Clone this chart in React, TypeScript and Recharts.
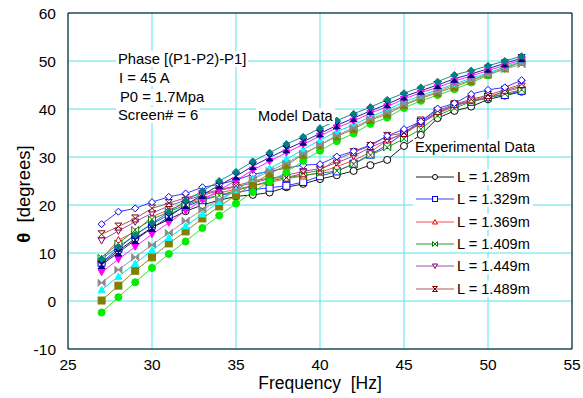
import React from 'react';
import { LineChart, Line, XAxis, YAxis, CartesianGrid } from 'recharts';

// frequency points (Hz)
const freq = [27, 28, 29, 30, 31, 32, 33, 34, 35, 36, 37, 38, 39, 40, 41, 42, 43, 44, 45, 46, 47, 48, 49, 50, 51, 52];

// model data (filled markers)
const modelGreen = [-2.4, 0.8, 3.9, 6.9, 9.8, 12.4, 15.2, 17.8, 20.3, 22.7, 24.9, 26.8, 29.2, 31.3, 33.3, 34.9, 36.9, 38.2, 40.2, 41.7, 42.9, 44.1, 45.5, 47.0, 48.4, 49.8];
const modelOlive = [0.1, 3.2, 6.3, 9.1, 12.0, 14.5, 17.2, 19.7, 22.0, 24.4, 26.5, 28.3, 30.5, 32.5, 34.3, 35.8, 37.7, 38.9, 40.8, 42.2, 43.4, 44.6, 45.9, 47.2, 48.5, 49.9];
const modelCyan = [2.3, 5.1, 7.8, 10.6, 13.2, 15.6, 18.1, 20.7, 23.1, 25.5, 27.6, 29.5, 31.6, 33.5, 35.3, 36.7, 38.4, 39.8, 41.5, 42.8, 44.0, 45.2, 46.4, 47.5, 48.8, 50.0];
const modelGray = [3.8, 6.5, 9.1, 11.7, 14.2, 16.7, 19.0, 21.1, 23.1, 25.3, 27.1, 28.7, 30.7, 32.5, 34.5, 36.1, 37.9, 39.3, 41.0, 42.4, 43.6, 45.0, 46.0, 47.3, 48.3, 49.3];
const modelMagenta = [6.0, 8.7, 11.3, 13.9, 16.3, 18.8, 21.0, 23.1, 25.1, 27.3, 29.1, 30.9, 32.6, 34.4, 36.1, 37.5, 39.1, 40.5, 42.1, 43.4, 44.5, 45.8, 46.9, 48.0, 49.1, 50.3];
const modelNavy = [7.5, 10.1, 12.7, 15.2, 17.5, 20.0, 22.1, 24.1, 26.0, 28.1, 29.9, 31.6, 33.2, 34.9, 36.6, 38.1, 39.6, 41.0, 42.6, 43.8, 45.0, 46.3, 47.3, 48.4, 49.5, 50.6];
const modelTeal = [8.75, 11.3, 13.75, 16.2, 18.5, 20.9, 22.9, 25.0, 26.9, 29.1, 30.9, 32.7, 34.2, 36.0, 37.6, 39.0, 40.4, 41.9, 43.3, 44.5, 45.7, 47.1, 48.0, 49.0, 50.0, 51.0];

// experimental data (open markers)
const exp1289 = [7.8, 10.5, 13.0, 15.3, 17.0, 18.7, 20.0, 21.0, 21.8, 22.1, 22.6, 23.7, 24.4, 25.4, 26.2, 27.1, 28.3, 29.4, 32.3, 34.6, 38.1, 39.6, 40.5, 42.0, 42.8, 43.6];
const exp1329 = [8.0, 11.0, 13.8, 16.0, 18.0, 19.7, 21.0, 22.0, 22.6, 23.2, 23.6, 24.0, 24.8, 26.0, 27.0, 28.6, 30.5, 32.5, 35.0, 37.3, 39.3, 40.8, 41.5, 42.5, 42.9, 43.8];
const exp1369 = [8.8, 12.7, 14.4, 17.6, 19.0, 20.3, 21.5, 22.5, 23.3, 24.0, 24.7, 25.5, 26.0, 26.8, 28.0, 29.3, 31.0, 33.5, 34.8, 37.0, 39.0, 40.6, 41.8, 42.6, 43.6, 44.5];
const exp1409 = [9.0, 12.0, 14.8, 17.0, 18.6, 20.0, 21.2, 22.0, 23.0, 24.0, 25.0, 25.7, 26.2, 26.6, 27.1, 28.5, 30.4, 32.0, 33.8, 35.8, 38.6, 40.2, 41.5, 42.3, 43.2, 44.0];
const exp1449 = [12.6, 14.6, 16.5, 18.3, 19.8, 21.0, 22.0, 23.0, 23.8, 24.6, 25.5, 26.2, 27.0, 27.6, 28.8, 30.2, 32.0, 33.5, 35.0, 37.0, 39.2, 40.8, 41.8, 42.2, 43.8, 44.8];
const exp1489 = [13.9, 15.5, 17.2, 19.3, 20.4, 21.5, 22.3, 23.2, 24.0, 25.0, 25.6, 25.7, 26.6, 27.2, 29.5, 31.0, 32.3, 34.4, 35.0, 37.6, 39.6, 41.0, 42.0, 42.9, 44.0, 45.2];
const expDiamond = [16.0, 18.6, 19.3, 20.6, 21.7, 22.4, 23.7, 24.3, 25.2, 26.4, 27.0, 27.7, 28.3, 28.5, 30.1, 31.2, 32.5, 34.4, 35.8, 37.4, 40.1, 41.2, 43.1, 44.0, 44.5, 46.0];

const xTicks = [25, 30, 35, 40, 45, 50, 55];
const xMinorTicks = [25, 27.5, 30, 32.5, 35, 37.5, 40, 42.5, 45, 47.5, 50, 52.5, 55];
const yTicks = [-10, 0, 10, 20, 30, 40, 50, 60];
const yMinorTicks = [-10, -8, -6, -4, -2, 0, 2, 4, 6, 8, 10, 12, 14, 16, 18, 20, 22, 24, 26, 28, 30, 32, 34, 36, 38, 40, 42, 44, 46, 48, 50, 52, 54, 56, 58, 60];

type Shape = 'circle' | 'square' | 'triangle' | 'triangleDown' | 'diamond' | 'bowtie' | 'hourglass';

interface SeriesDef {
  key: string;
  label?: string;
  values: number[];
  color: string;
  lineColor: string;
  shape: Shape;
  filled: boolean;
}

const SERIES: SeriesDef[] = [
  { key: 'e1', label: 'L = 1.289m', values: exp1289, color: '#000000', lineColor: '#202020', shape: 'circle', filled: false },
  { key: 'e2', label: 'L = 1.329m', values: exp1329, color: '#0000ff', lineColor: '#3c3cff', shape: 'square', filled: false },
  { key: 'e3', label: 'L = 1.369m', values: exp1369, color: '#ff0000', lineColor: '#ff4a4a', shape: 'triangle', filled: false },
  { key: 'e4', label: 'L = 1.409m', values: exp1409, color: '#008000', lineColor: '#2a9a2a', shape: 'bowtie', filled: false },
  { key: 'e5', label: 'L = 1.449m', values: exp1449, color: '#800080', lineColor: '#a050b0', shape: 'triangleDown', filled: false },
  { key: 'e6', label: 'L = 1.489m', values: exp1489, color: '#800000', lineColor: '#a85a5a', shape: 'hourglass', filled: false },
  { key: 'e7', values: expDiamond, color: '#0000ff', lineColor: '#3c3cff', shape: 'diamond', filled: false },
  { key: 'm1', values: modelGreen, color: '#00ee00', lineColor: '#33dd33', shape: 'circle', filled: true },
  { key: 'm2', values: modelOlive, color: '#808000', lineColor: '#8a8a20', shape: 'square', filled: true },
  { key: 'm3', values: modelCyan, color: '#00ffff', lineColor: '#00e0f0', shape: 'triangle', filled: true },
  { key: 'm4', values: modelGray, color: '#8c8c8c', lineColor: '#999999', shape: 'bowtie', filled: true },
  { key: 'm5', values: modelMagenta, color: '#ff00ff', lineColor: '#ff22ff', shape: 'triangleDown', filled: true },
  { key: 'm6', values: modelNavy, color: '#000080', lineColor: '#2020a0', shape: 'hourglass', filled: true },
  { key: 'm7', values: modelTeal, color: '#008080', lineColor: '#1a8c8c', shape: 'diamond', filled: true },
];

const data = freq.map((f, i) => {
  const row: any = { f };
  SERIES.forEach((s) => {
    row[s.key] = s.values[i];
  });
  return row;
});

const FONT = '"Liberation Sans", Arial, sans-serif';
const GRID = '#55e4ee';

function Marker({ cx, cy, shape, color, filled, size }: { cx: number; cy: number; shape: Shape; color: string; filled: boolean; size: number }) {
  if (cx == null || cy == null) return null;
  const r = size / 2;
  const fill = filled ? color : '#ffffff';
  const common = { fill, stroke: color, strokeWidth: 1 };
  switch (shape) {
    case 'circle':
      return <circle cx={cx} cy={cy} r={r} {...common} />;
    case 'square':
      return <rect x={cx - r} y={cy - r} width={size} height={size} {...common} />;
    case 'triangle':
      return <polygon points={`${cx},${cy - r} ${cx + r},${cy + r * 0.8} ${cx - r},${cy + r * 0.8}`} {...common} />;
    case 'triangleDown':
      return <polygon points={`${cx},${cy + r} ${cx + r},${cy - r * 0.8} ${cx - r},${cy - r * 0.8}`} {...common} />;
    case 'diamond':
      return <polygon points={`${cx},${cy - r} ${cx + r},${cy} ${cx},${cy + r} ${cx - r},${cy}`} {...common} />;
    case 'bowtie':
      return <polygon points={`${cx - r},${cy - r} ${cx + r},${cy + r} ${cx + r},${cy - r} ${cx - r},${cy + r}`} {...common} />;
    case 'hourglass':
      return <polygon points={`${cx - r},${cy - r} ${cx + r},${cy - r} ${cx - r},${cy + r} ${cx + r},${cy + r}`} {...common} />;
    default:
      return null;
  }
}

const boxText: React.CSSProperties = {
  position: 'absolute',
  background: '#ffffff',
  whiteSpace: 'nowrap',
  lineHeight: '16px',
  height: 16,
  padding: '0 2px',
  color: '#000',
};

function LegendBox() {
  const rows = SERIES.filter((s) => s.label);
  return (
    <>
      {rows.map((s, i) => (
        <div
          key={s.key}
          style={{ ...boxText, left: 413, top: 169 + i * 22.3, width: 120, padding: 0, display: 'flex', alignItems: 'center', fontSize: 14.6 }}
        >
          <svg width={42} height={16} style={{ display: 'block' }}>
            <line x1={3} y1={8} x2={41} y2={8} stroke={s.lineColor} strokeWidth={1} />
            <Marker cx={22} cy={8} shape={s.shape} color={s.color} filled={s.filled} size={5} />
          </svg>
          <span style={{ marginLeft: 2 }}>{s.label}</span>
        </div>
      ))}
    </>
  );
}

export default function App() {
  return (
    <div style={{ position: 'absolute', left: 0, top: 0, width: 583, height: 398, background: '#fff', fontFamily: FONT }}>
      <LineChart width={583} height={398} data={data} margin={{ top: 13, right: 11, left: 0, bottom: 0 }} style={{ fontFamily: FONT }}>
        <CartesianGrid stroke={GRID} strokeWidth={1} />
        <XAxis
          dataKey="f"
          type="number"
          domain={[25, 55]}
          ticks={xTicks}
          interval={0}
          height={49}
          tickLine={false}
          tickSize={0}
          tickMargin={10}
          axisLine={{ stroke: '#000' }}
          tick={{ fill: '#000', fontSize: 15.5 }}
        />
        <YAxis
          type="number"
          domain={[-10, 60]}
          ticks={yTicks}
          interval={0}
          width={68}
          tickLine={false}
          tickSize={0}
          tickMargin={12}
          axisLine={{ stroke: '#000' }}
          tick={{ fill: '#000', fontSize: 15.5 }}
        />
        <XAxis xAxisId="bm" orientation="bottom" mirror type="number" domain={[25, 55]} ticks={xMinorTicks} interval={0} height={1} tick={false} tickSize={4} axisLine={false} tickLine={{ stroke: '#000' }} />
        <XAxis xAxisId="tm" orientation="top" mirror type="number" domain={[25, 55]} ticks={xMinorTicks} interval={0} height={1} tick={false} tickSize={4} axisLine={{ stroke: '#000' }} tickLine={{ stroke: '#000' }} />
        <YAxis yAxisId="lm" orientation="left" mirror type="number" domain={[-10, 60]} ticks={yMinorTicks} interval={0} width={1} tick={false} tickSize={4} axisLine={false} tickLine={{ stroke: '#000' }} />
        <YAxis yAxisId="rm" orientation="right" mirror type="number" domain={[-10, 60]} ticks={yMinorTicks} interval={0} width={1} tick={false} tickSize={4} axisLine={{ stroke: '#000' }} tickLine={{ stroke: '#000' }} />
        {SERIES.map((s) => (
          <Line
            key={s.key}
            dataKey={s.key}
            type="linear"
            stroke={s.lineColor}
            strokeWidth={1}
            isAnimationActive={false}
            activeDot={false}
            legendType="none"
            dot={(p: any) => (
              <Marker key={`${s.key}-${p.index}`} cx={p.cx} cy={p.cy} shape={s.shape} color={s.color} filled={s.filled} size={7} />
            )}
          />
        ))}
      </LineChart>

      <div style={{ ...boxText, left: 116, top: 51, fontSize: 14.8 }}>Phase [(P1-P2)-P1]</div>
      <div style={{ ...boxText, left: 117, top: 69.5, fontSize: 14.8 }}>I = 45 A</div>
      <div style={{ ...boxText, left: 118, top: 88.5, fontSize: 14.8 }}>P0 = 1.7Mpa</div>
      <div style={{ ...boxText, left: 116, top: 107, fontSize: 14.8 }}>Screen# = 6</div>
      <div style={{ ...boxText, left: 256, top: 108, fontSize: 14.6 }}>Model Data</div>
      <div style={{ ...boxText, left: 413, top: 139, fontSize: 14.6 }}>Experimental Data</div>

      <LegendBox />

      <div
        style={{
          position: 'absolute',
          left: 24,
          top: 194,
          transform: 'translate(-50%, -50%) rotate(-90deg)',
          fontSize: 18.5,
          whiteSpace: 'pre',
          color: '#000',
        }}
      >
        <b>θ</b>{'  [degrees]'}
      </div>
      <div
        style={{
          position: 'absolute',
          left: 320,
          top: 383,
          transform: 'translate(-50%, -50%)',
          fontSize: 17.5,
          whiteSpace: 'pre',
          color: '#000',
        }}
      >
        {'Frequency  [Hz]'}
      </div>
    </div>
  );
}
